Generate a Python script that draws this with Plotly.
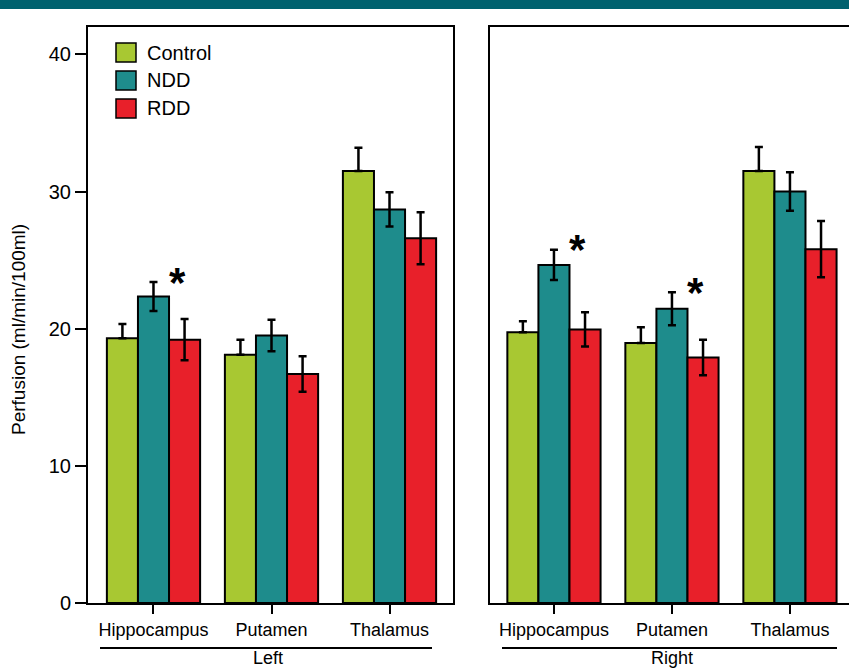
import plotly.graph_objects as go

W, H = 849, 671

regions = ["Hippocampus", "Putamen", "Thalamus"]
groups = ["Control", "NDD", "RDD"]
colors = ["#A8C832", "#1E8C8C", "#E8202A"]

# Left hemisphere: means and SE
left_control = [19.3, 18.1, 31.5]
left_ndd = [22.35, 19.5, 28.7]
left_rdd = [19.2, 16.7, 26.6]
left_control_err = [1.05, 1.1, 1.7]
left_ndd_err = [1.05, 1.15, 1.25]
left_rdd_err = [1.5, 1.3, 1.9]

# Right hemisphere: means and SE
right_control = [19.75, 18.95, 31.5]
right_ndd = [24.65, 21.45, 30.0]
right_rdd = [19.95, 17.9, 25.8]
right_control_err = [0.8, 1.15, 1.75]
right_ndd_err = [1.1, 1.2, 1.4]
right_rdd_err = [1.25, 1.3, 2.05]

# significance markers (panel, region index) placed above NDD bar
sig_marks = [("left", 0), ("right", 0), ("right", 1)]

y_ticks = [0, 10, 20, 30, 40]
y_title = "Perfusion (ml/min/100ml)"
side_labels = ["Left", "Right"]


def px_x(p):
    return p / W


def px_y(p):
    return (H - p) / H


fig = go.Figure()

panels = {
    "left": ("x", "y", [left_control, left_ndd, left_rdd],
             [left_control_err, left_ndd_err, left_rdd_err]),
    "right": ("x2", "y2", [right_control, right_ndd, right_rdd],
              [right_control_err, right_ndd_err, right_rdd_err]),
}

xpos = list(range(len(regions)))
for name, (xa, ya, means, errs) in panels.items():
    for gi, g in enumerate(groups):
        minus = [0] * len(regions) if g == "Control" else errs[gi]
        fig.add_trace(go.Bar(
            x=xpos, y=means[gi], name=g, xaxis=xa, yaxis=ya,
            marker=dict(color=colors[gi], line=dict(color="black", width=2)),
            error_y=dict(type="data", array=errs[gi], arrayminus=minus,
                         symmetric=False, color="black", thickness=2.5, width=4),
            showlegend=False,
        ))

font_family = "Liberation Sans, Arial, Helvetica, sans-serif"

common_x = dict(
    tickmode="array", tickvals=xpos, ticktext=regions,
    ticks="outside", ticklen=9, tickwidth=2, tickcolor="black",
    showline=True, linewidth=2, linecolor="black", mirror=True,
    showgrid=False, zeroline=False, automargin=False,
    tickfont=dict(size=18, color="black", family=font_family),
    fixedrange=True,
)

y_domain = [px_y(603), px_y(27)]

fig.update_layout(
    width=W, height=H,
    margin=dict(l=0, r=0, t=0, b=0, pad=0, autoexpand=False),
    paper_bgcolor="white", plot_bgcolor="white",
    barmode="group", bargap=0.21, bargroupgap=0,
    font=dict(family=font_family, color="black"),
    xaxis=dict(domain=[px_x(88), px_x(453)], range=[-0.555, 2.538],
               anchor="y", **common_x),
    xaxis2=dict(domain=[px_x(490), 1.0], range=[-0.542, -0.542 + 359 / 118],
                anchor="y2", **common_x),
    yaxis=dict(domain=y_domain, range=[0, 42], anchor="x",
               tickmode="array", tickvals=y_ticks,
               ticks="outside", ticklen=11, tickwidth=2, tickcolor="black",
               showline=True, linewidth=2, linecolor="black", mirror=True,
               showgrid=False, zeroline=False, automargin=False,
               tickfont=dict(size=20, color="black", family=font_family),
               fixedrange=True),
    yaxis2=dict(domain=y_domain, range=[0, 42], anchor="x2",
                showticklabels=False, ticks="",
                showline=True, linewidth=2, linecolor="black", mirror=False,
                showgrid=False, zeroline=False, automargin=False,
                fixedrange=True),
)

shapes = []
annotations = []

# header band
shapes.append(dict(type="rect", xref="paper", yref="paper", x0=0, x1=1,
                   y0=px_y(9), y1=1, fillcolor="#00616E", line=dict(width=0),
                   layer="above"))

# underline and side labels
for (x0, x1, cx), lab in zip([(100, 432, 268), (502, 837, 672)], side_labels):
    shapes.append(dict(type="line", xref="paper", yref="paper",
                       x0=px_x(x0), x1=px_x(x1), y0=px_y(648), y1=px_y(648),
                       line=dict(color="black", width=2)))
    annotations.append(dict(text=lab, xref="paper", yref="paper",
                            x=px_x(cx), y=px_y(670), xanchor="center",
                            yanchor="bottom", showarrow=False,
                            font=dict(size=18, color="black")))

# legend
for i, (g, c) in enumerate(zip(groups, colors)):
    cy = 52.5 + 28 * i
    shapes.append(dict(type="rect", xref="paper", yref="paper",
                       x0=px_x(116), x1=px_x(136), y0=px_y(cy + 9.5), y1=px_y(cy - 9.5),
                       fillcolor=c, line=dict(color="black", width=1.5)))
    annotations.append(dict(text=g, xref="paper", yref="paper",
                            x=px_x(145), y=px_y(cy), xanchor="left",
                            yanchor="middle", showarrow=False,
                            font=dict(size=20, color="black")))

# y title
annotations.append(dict(text=y_title, xref="paper", yref="paper",
                        x=px_x(18), y=px_y(330), textangle=-90,
                        xanchor="center", yanchor="middle", showarrow=False,
                        font=dict(size=19, color="black")))

# significance asterisks
for panel, ri in sig_marks:
    xa, ya, means, errs = panels[panel]
    top = means[1][ri] + errs[1][ri]
    annotations.append(dict(text="<b>*</b>", xref=xa, yref=ya, x=ri + 0.2,
                            y=top, xanchor="center", yanchor="middle",
                            showarrow=False,
                            font=dict(size=42, color="black")))

fig.update_layout(shapes=shapes, annotations=annotations)

fig.write_html(
    "out.html",
    config={"displayModeBar": False},
    post_script="document.body.style.margin='0';document.body.style.overflow='hidden';",
)
